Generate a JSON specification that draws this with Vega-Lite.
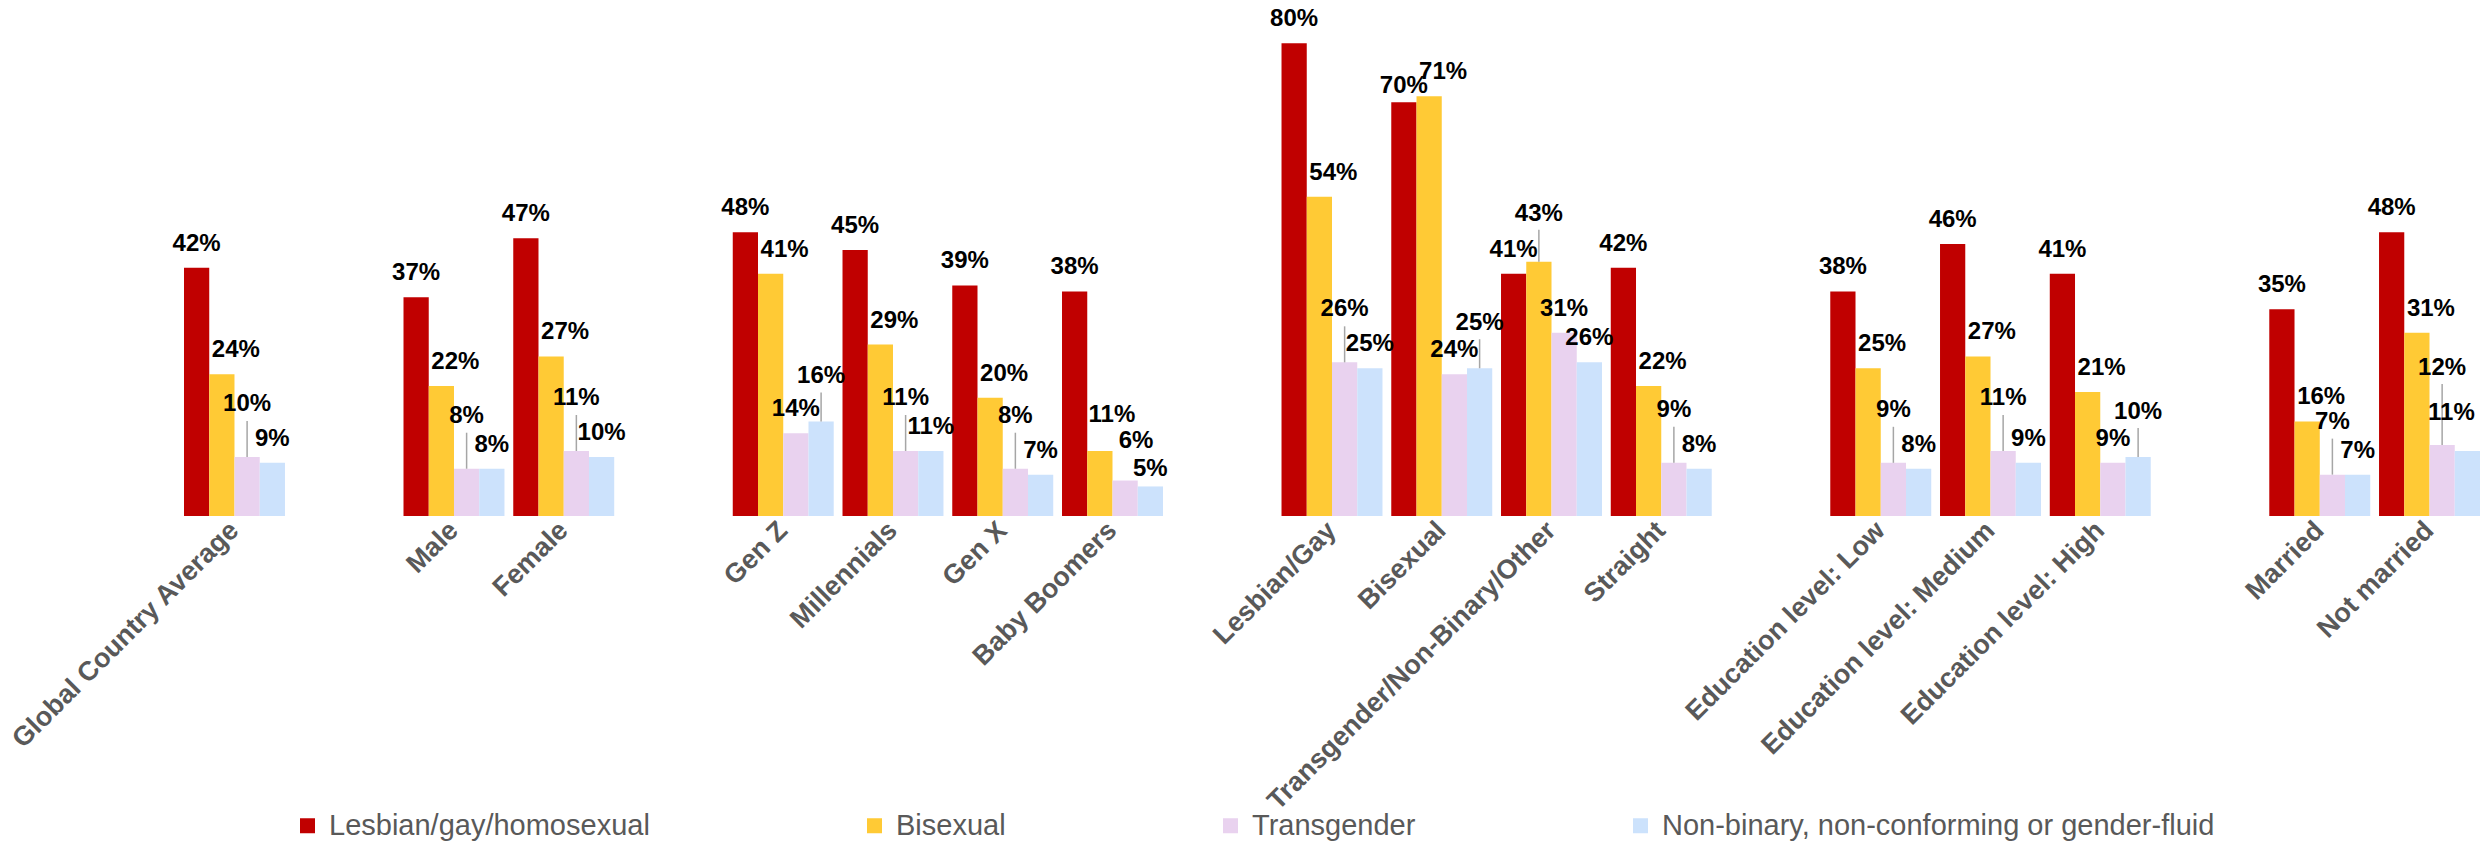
{
  "$schema": "https://vega.github.io/schema/vega-lite/v6.json",
  "width": 2296,
  "height": 516,
  "autosize": {"type": "none"},
  "padding": {"left": 184, "top": 0, "right": 4, "bottom": 327},
  "background": "white",
  "config": {"view": {"stroke": null}, "font": "Liberation Sans", "text": {"font": "Liberation Sans", "fontWeight": "bold", "fontSize": 24, "color": "#000000", "baseline": "alphabetic", "align": "center"}, "rule": {"color": "#A6A6A6", "strokeWidth": 1.5}},
  "data": {
    "values": [
      {"category": "Global Country Average", "series": "Lesbian/gay/homosexual", "value": 0.42},
      {"category": "Global Country Average", "series": "Bisexual", "value": 0.24},
      {"category": "Global Country Average", "series": "Transgender", "value": 0.10},
      {"category": "Global Country Average", "series": "Non-binary, non-conforming or gender-fluid", "value": 0.09},
      {"category": "Male", "series": "Lesbian/gay/homosexual", "value": 0.37},
      {"category": "Male", "series": "Bisexual", "value": 0.22},
      {"category": "Male", "series": "Transgender", "value": 0.08},
      {"category": "Male", "series": "Non-binary, non-conforming or gender-fluid", "value": 0.08},
      {"category": "Female", "series": "Lesbian/gay/homosexual", "value": 0.47},
      {"category": "Female", "series": "Bisexual", "value": 0.27},
      {"category": "Female", "series": "Transgender", "value": 0.11},
      {"category": "Female", "series": "Non-binary, non-conforming or gender-fluid", "value": 0.10},
      {"category": "Gen Z", "series": "Lesbian/gay/homosexual", "value": 0.48},
      {"category": "Gen Z", "series": "Bisexual", "value": 0.41},
      {"category": "Gen Z", "series": "Transgender", "value": 0.14},
      {"category": "Gen Z", "series": "Non-binary, non-conforming or gender-fluid", "value": 0.16},
      {"category": "Millennials", "series": "Lesbian/gay/homosexual", "value": 0.45},
      {"category": "Millennials", "series": "Bisexual", "value": 0.29},
      {"category": "Millennials", "series": "Transgender", "value": 0.11},
      {"category": "Millennials", "series": "Non-binary, non-conforming or gender-fluid", "value": 0.11},
      {"category": "Gen X", "series": "Lesbian/gay/homosexual", "value": 0.39},
      {"category": "Gen X", "series": "Bisexual", "value": 0.20},
      {"category": "Gen X", "series": "Transgender", "value": 0.08},
      {"category": "Gen X", "series": "Non-binary, non-conforming or gender-fluid", "value": 0.07},
      {"category": "Baby Boomers", "series": "Lesbian/gay/homosexual", "value": 0.38},
      {"category": "Baby Boomers", "series": "Bisexual", "value": 0.11},
      {"category": "Baby Boomers", "series": "Transgender", "value": 0.06},
      {"category": "Baby Boomers", "series": "Non-binary, non-conforming or gender-fluid", "value": 0.05},
      {"category": "Lesbian/Gay", "series": "Lesbian/gay/homosexual", "value": 0.80},
      {"category": "Lesbian/Gay", "series": "Bisexual", "value": 0.54},
      {"category": "Lesbian/Gay", "series": "Transgender", "value": 0.26},
      {"category": "Lesbian/Gay", "series": "Non-binary, non-conforming or gender-fluid", "value": 0.25},
      {"category": "Bisexual", "series": "Lesbian/gay/homosexual", "value": 0.70},
      {"category": "Bisexual", "series": "Bisexual", "value": 0.71},
      {"category": "Bisexual", "series": "Transgender", "value": 0.24},
      {"category": "Bisexual", "series": "Non-binary, non-conforming or gender-fluid", "value": 0.25},
      {"category": "Transgender/Non-Binary/Other", "series": "Lesbian/gay/homosexual", "value": 0.41},
      {"category": "Transgender/Non-Binary/Other", "series": "Bisexual", "value": 0.43},
      {"category": "Transgender/Non-Binary/Other", "series": "Transgender", "value": 0.31},
      {"category": "Transgender/Non-Binary/Other", "series": "Non-binary, non-conforming or gender-fluid", "value": 0.26},
      {"category": "Straight", "series": "Lesbian/gay/homosexual", "value": 0.42},
      {"category": "Straight", "series": "Bisexual", "value": 0.22},
      {"category": "Straight", "series": "Transgender", "value": 0.09},
      {"category": "Straight", "series": "Non-binary, non-conforming or gender-fluid", "value": 0.08},
      {"category": "Education level: Low", "series": "Lesbian/gay/homosexual", "value": 0.38},
      {"category": "Education level: Low", "series": "Bisexual", "value": 0.25},
      {"category": "Education level: Low", "series": "Transgender", "value": 0.09},
      {"category": "Education level: Low", "series": "Non-binary, non-conforming or gender-fluid", "value": 0.08},
      {"category": "Education level: Medium", "series": "Lesbian/gay/homosexual", "value": 0.46},
      {"category": "Education level: Medium", "series": "Bisexual", "value": 0.27},
      {"category": "Education level: Medium", "series": "Transgender", "value": 0.11},
      {"category": "Education level: Medium", "series": "Non-binary, non-conforming or gender-fluid", "value": 0.09},
      {"category": "Education level: High", "series": "Lesbian/gay/homosexual", "value": 0.41},
      {"category": "Education level: High", "series": "Bisexual", "value": 0.21},
      {"category": "Education level: High", "series": "Transgender", "value": 0.09},
      {"category": "Education level: High", "series": "Non-binary, non-conforming or gender-fluid", "value": 0.10},
      {"category": "Married", "series": "Lesbian/gay/homosexual", "value": 0.35},
      {"category": "Married", "series": "Bisexual", "value": 0.16},
      {"category": "Married", "series": "Transgender", "value": 0.07},
      {"category": "Married", "series": "Non-binary, non-conforming or gender-fluid", "value": 0.07},
      {"category": "Not married", "series": "Lesbian/gay/homosexual", "value": 0.48},
      {"category": "Not married", "series": "Bisexual", "value": 0.31},
      {"category": "Not married", "series": "Transgender", "value": 0.12},
      {"category": "Not married", "series": "Non-binary, non-conforming or gender-fluid", "value": 0.11}
    ]
  },
  "encoding": {
    "x": {
      "field": "category",
      "type": "nominal",
      "scale": {
        "domain": ["Global Country Average", " ", "Male", "Female", "  ", "Gen Z", "Millennials", "Gen X", "Baby Boomers", "   ", "Lesbian/Gay", "Bisexual", "Transgender/Non-Binary/Other", "Straight", "    ", "Education level: Low", "Education level: Medium", "Education level: High", "     ", "Married", "Not married"],
        "paddingInner": 0.08,
        "paddingOuter": 0
      },
      "axis": {
        "title": null,
        "labelAngle": -45,
        "labelAlign": "right",
        "labelBaseline": "middle",
        "labelFont": "Liberation Sans",
        "labelFontSize": 27,
        "labelFontWeight": "bold",
        "labelColor": "#595959",
        "labelPadding": 10,
        "labelLimit": 0,
        "labelOverlap": false,
        "ticks": false,
        "domain": false,
        "grid": false
      }
    },
    "xOffset": {
      "field": "series",
      "type": "nominal",
      "scale": {
        "domain": ["Lesbian/gay/homosexual", "Bisexual", "Transgender", "Non-binary, non-conforming or gender-fluid"],
        "paddingInner": 0,
        "paddingOuter": 0
      }
    },
    "y": {
      "field": "value",
      "type": "quantitative",
      "scale": {"domain": [0, 0.873], "nice": false, "zero": true},
      "axis": null
    },
    "text": {"field": "value", "type": "quantitative", "format": ".0%"}
  },
  "layer": [
    {
      "mark": {"type": "bar"},
      "encoding": {
        "color": {
          "field": "series",
          "type": "nominal",
          "scale": {
            "domain": ["Lesbian/gay/homosexual", "Bisexual", "Transgender", "Non-binary, non-conforming or gender-fluid"],
            "range": ["#C00000", "#FFCA35", "#E9D2EF", "#CCE2FC"]
          },
          "legend": {
            "title": null,
            "orient": "none",
            "direction": "horizontal",
            "legendX": 109,
            "legendY": 811,
            "symbolType": "square",
            "symbolSize": 225,
            "symbolStrokeWidth": 0,
            "labelFont": "Liberation Sans",
            "labelFontSize": 29,
            "labelColor": "#595959",
            "labelOffset": 7,
            "labelLimit": 0,
            "columnPadding": 210
          }
        }
      }
    },
    {
      "transform": [{"filter": "(datum.series === 'Lesbian/gay/homosexual' && datum.category !== 'Bisexual') || (datum.series === 'Non-binary, non-conforming or gender-fluid' && indexof(['Gen Z', 'Bisexual', 'Education level: High', 'Not married', 'Baby Boomers'], datum.category) < 0) || (datum.series === 'Transgender' && indexof(['Gen Z', 'Bisexual', 'Transgender/Non-Binary/Other', 'Education level: High'], datum.category) >= 0)"}],
      "mark": {"type": "text", "dy": -17}
    },
    {
      "transform": [{"filter": "datum.series === 'Lesbian/gay/homosexual' && datum.category === 'Bisexual'"}],
      "mark": {"type": "text", "dy": -9}
    },
    {
      "transform": [{"filter": "datum.series === 'Bisexual' && indexof(['Transgender/Non-Binary/Other', 'Baby Boomers'], datum.category) < 0"}],
      "mark": {"type": "text", "dy": -17, "dx": 14}
    },
    {
      "transform": [{"filter": "datum.series === 'Transgender' && indexof(['Global Country Average', 'Male', 'Female', 'Millennials', 'Gen X', 'Lesbian/Gay', 'Straight', 'Education level: Low', 'Education level: Medium', 'Married'], datum.category) >= 0"}],
      "layer": [
        {"mark": {"type": "rule", "y2Offset": -36}, "encoding": {"y2": {"field": "value"}}},
        {"mark": {"type": "text", "dy": -46}}
      ]
    },
    {
      "transform": [{"filter": "datum.series === 'Non-binary, non-conforming or gender-fluid' && indexof(['Gen Z', 'Bisexual', 'Education level: High'], datum.category) >= 0"}],
      "layer": [
        {"mark": {"type": "rule", "y2Offset": -29}, "encoding": {"y2": {"field": "value"}}},
        {"mark": {"type": "text", "dy": -38}}
      ]
    },
    {
      "transform": [{"filter": "datum.series === 'Bisexual' && datum.category === 'Transgender/Non-Binary/Other'"}],
      "layer": [
        {"mark": {"type": "rule", "y2Offset": -32}, "encoding": {"y2": {"field": "value"}}},
        {"mark": {"type": "text", "dy": -41}}
      ]
    },
    {
      "transform": [{"filter": "datum.series === 'Transgender' && datum.category === 'Not married'"}],
      "layer": [
        {"mark": {"type": "rule", "y2Offset": -61}, "encoding": {"y2": {"field": "value"}}},
        {"mark": {"type": "text", "dy": -70}}
      ]
    },
    {
      "transform": [{"filter": "datum.series === 'Bisexual' && datum.category === 'Baby Boomers'"}],
      "mark": {"type": "text", "dy": -29, "dx": 12}
    },
    {
      "transform": [{"filter": "datum.series === 'Transgender' && datum.category === 'Baby Boomers'"}],
      "mark": {"type": "text", "dy": -33, "dx": 11}
    },
    {
      "transform": [{"filter": "datum.series === 'Non-binary, non-conforming or gender-fluid' && datum.category === 'Baby Boomers'"}],
      "mark": {"type": "text", "dy": -10}
    },
    {
      "transform": [{"filter": "datum.series === 'Non-binary, non-conforming or gender-fluid' && datum.category === 'Not married'"}],
      "mark": {"type": "text", "dy": -31, "dx": -16}
    }
  ]
}
